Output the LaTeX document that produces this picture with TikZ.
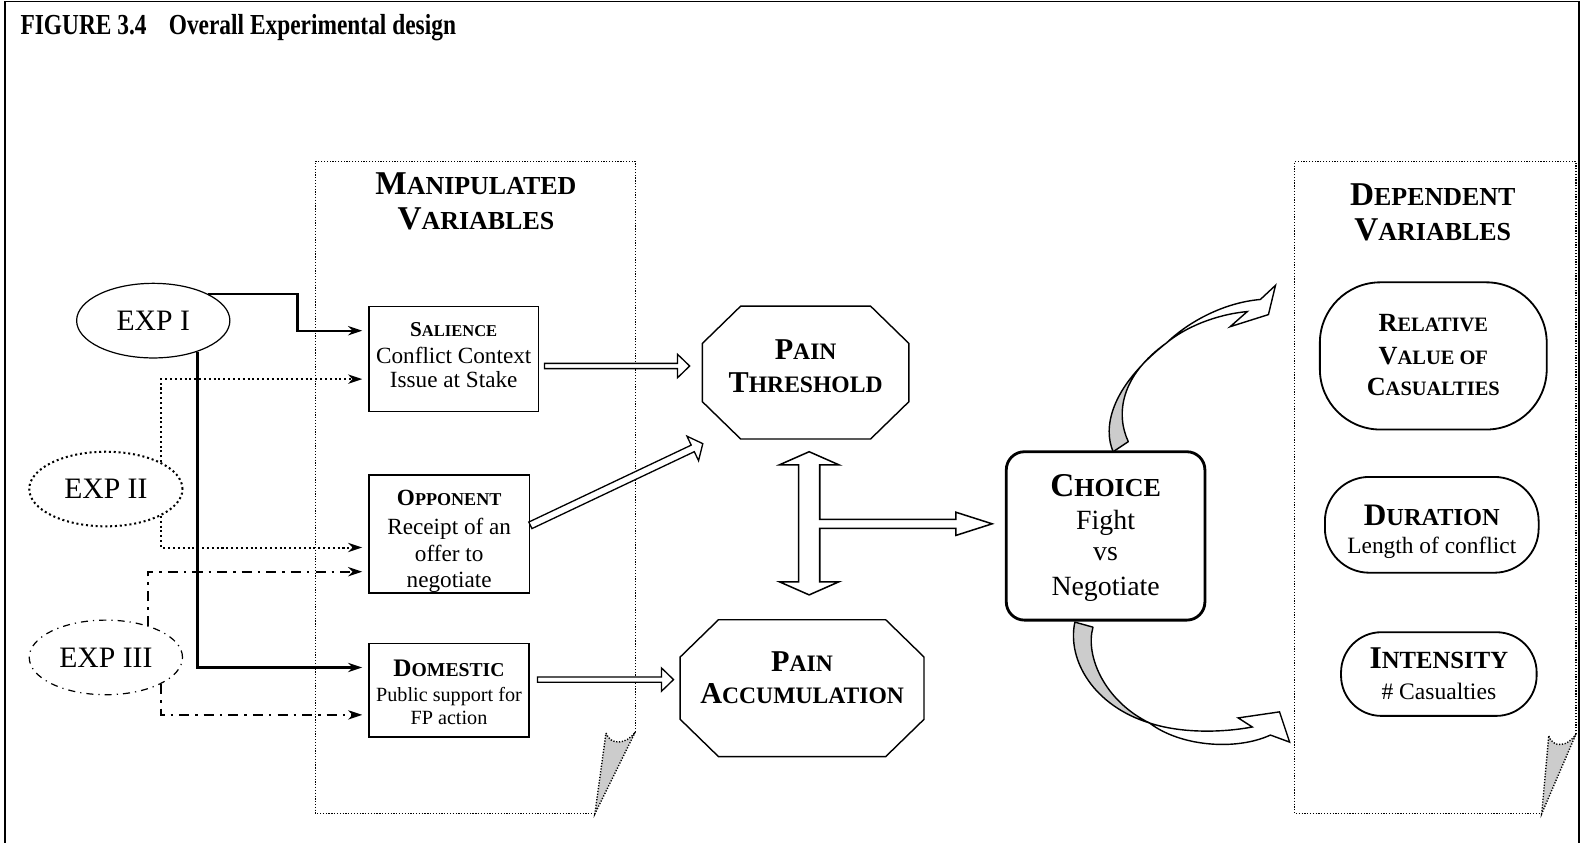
\documentclass[tikz,border=0pt]{standalone}
\usepackage{fontspec}
\setmainfont{Liberation Serif}
\usepackage{graphicx}
\usetikzlibrary{calc,arrows.meta,shapes.geometric}
\newcommand\SC[2]{#1\scalebox{0.78}{#2}}
\newcommand\fsz[1]{\fontsize{#1}{#1}\selectfont}
\newcommand\hollowarrow[5]{%
  \coordinate (ha-b) at ($(#2)!#5!(#1)$);
  \draw[harrow] ($(#1)!#3!90:(#2)$) -- ($(ha-b)!#3!-90:(#1)$) -- ($(ha-b)!#4!-90:(#1)$) -- (#2)
     -- ($(ha-b)!#4!90:(#1)$) -- ($(ha-b)!#3!90:(#1)$) -- ($(#1)!#3!-90:(#2)$) -- cycle;}
\newcommand\octa[5]{%
  \node[inner sep=0, minimum width=#4, minimum height=#5] (#1) at (#2,#3) {};
  \draw[octline] ([xshift=19pt]#1.north west) -- ([xshift=-19pt]#1.north east)
    -- ([yshift=-18.5pt]#1.north east) -- ([yshift=18.5pt]#1.south east)
    -- ([xshift=-19pt]#1.south east) -- ([xshift=19pt]#1.south west)
    -- ([yshift=18.5pt]#1.south west) -- ([yshift=-18.5pt]#1.north west) -- cycle;}
\tikzset{
 frame/.style={draw, line width=0.6pt},
 panel/.style={draw, line width=0.7pt, dash pattern=on 0.6pt off 0.8pt},
 fold/.style={panel, fill=black!20},
 mbox/.style={draw, line width=0.75pt, inner sep=0},
 lbl/.style={inner sep=0, anchor=base},
 expsh/.style={ellipse, inner sep=0, minimum width=76pt, minimum height=37pt, font=\fsz{14.7}},
 exponesty/.style={expsh, draw, line width=0.6pt},
 exptwosty/.style={expsh, draw, line width=1pt, dash pattern=on 1pt off 1.4pt},
 expthreesty/.style={expsh, draw, line width=0.6pt, dash pattern=on 3.5pt off 2.5pt on 0.6pt off 2.5pt},
 octline/.style={draw, line width=0.7pt, line join=miter},
 choicebox/.style={draw, line width=1.4pt, rounded corners=9pt, inner sep=0},
 dv/.style={draw, line width=0.9pt, inner sep=0},
 conn/.style={-{Stealth[length=7pt,width=4.6pt,inset=2.2pt]}, shorten >=3pt},
 solidc/.style={conn, line width=1.1pt},
 dotc/.style={conn, line width=1pt, dash pattern=on 1pt off 1.4pt},
 dashc/.style={conn, line width=1pt, dash pattern=on 5pt off 3pt on 1.2pt off 3pt},
 harrow/.style={draw, fill=white, line width=0.65pt, line join=miter},
 bigarrow/.style={draw, fill=white, line width=0.75pt, line join=miter},
 curvgray/.style={draw, fill=black!20, line width=0.7pt, line join=round},
 curvwhite/.style={draw, fill=white, line width=0.7pt, line join=miter},
}
\begin{document}
\begin{tikzpicture}[x=0.5pt,y=-0.5pt]
\useasboundingbox (0,0) rectangle (1568,836);
\draw[frame] (5,836) -- (5,1.5) -- (1566,1.5) -- (1566,836);
\node[anchor=base west, inner sep=0] (title) at (20,34)
  {\scalebox{1}[1.24]{\fsz{11.6}\bfseries FIGURE 3.4\hspace{11pt}Overall Experimental design}};

% panels
\draw[panel] (630,726) -- (630,160) -- (313,160) -- (313,807) -- (590,807);
\draw[fold] (601,727) .. controls (605,739) and (621,739) .. (630,726) -- (590,807) -- cycle;
\draw[panel] (1563,728) -- (1563,160) -- (1284,160) -- (1284,807) -- (1529,807);
\draw[fold] (1536,730) .. controls (1540,742) and (1555,741) .. (1563,728) -- (1529,807) -- cycle;

\node[lbl, font=\fsz{16.5}\bfseries] (mh1) at (472,193) {\SC{M}{ANIPULATED}};
\node[lbl, font=\fsz{16.5}\bfseries] (mh2) at (472,228) {\SC{V}{ARIABLES}};
\node[lbl, font=\fsz{16.5}\bfseries] (dh1) at (1421,203.5) {\SC{D}{EPENDENT}};
\node[lbl, font=\fsz{16.5}\bfseries] (dh2) at (1421,238.5) {\SC{V}{ARIABLES}};

% experiments
\node[exponesty] (exp1) at (152,318) {EXP I};
\node[exptwosty] (exp2) at (105,485) {EXP II};
\node[expthreesty] (exp3) at (105,652) {EXP III};

% manipulated boxes
\node[mbox, minimum width=84pt, minimum height=52pt] (sal) at (450,356) {};
\node[lbl, font=\fsz{10.5}\bfseries] (salt1) at (450,334) {\SC{S}{ALIENCE}};
\node[lbl, font=\fsz{11.5}] (salt2) at (450,360.6) {Conflict Context};
\node[lbl, font=\fsz{11.5}] (salt3) at (450,384.6) {Issue at Stake};

\node[mbox, minimum width=79.5pt, minimum height=58.5pt] (opp) at (445.5,529.5) {};
\node[lbl, font=\fsz{11.5}\bfseries] (oppt1) at (445.5,501.6) {\SC{O}{PPONENT}};
\node[lbl, font=\fsz{11.5}] (oppt2) at (445.5,529.6) {Receipt of an};
\node[lbl, font=\fsz{11.5}] (oppt3) at (445.5,556.6) {offer to};
\node[lbl, font=\fsz{11.5}] (oppt4) at (445.5,582.6) {negotiate};

\node[mbox, minimum width=79.3pt, minimum height=46.5pt] (dom) at (445.3,684.5) {};
\node[lbl, font=\fsz{12.5}\bfseries] (domt1) at (445.3,671) {\SC{D}{OMESTIC}};
\node[lbl, font=\fsz{10}] (domt2) at (445.3,695.6) {Public support for};
\node[lbl, font=\fsz{10}] (domt3) at (445.3,718.6) {FP action};

% pain octagons
\octa{thr}{799}{369.5}{102pt}{65.5pt}
\node[lbl, font=\fsz{15}\bfseries] (thrt1) at (799,357) {\SC{P}{AIN}};
\node[lbl, font=\fsz{15}\bfseries] (thrt2) at (799,389) {\SC{T}{HRESHOLD}};
\octa{acc}{795.5}{682.5}{120.5pt}{67.5pt}
\node[lbl, font=\fsz{15}\bfseries] (acct1) at (795.5,666) {\SC{P}{AIN}};
\node[lbl, font=\fsz{15}\bfseries] (acct2) at (795.5,698) {\SC{A}{CCUMULATION}};

% choice
\node[choicebox, minimum width=98.5pt, minimum height=83.5pt] (choice) at (1096.5,531.5) {};
\node[lbl, font=\fsz{16.5}\bfseries] (cht1) at (1096.5,492) {\SC{C}{HOICE}};
\node[lbl, font=\fsz{13.8}] (cht2) at (1096.5,525) {Fight};
\node[lbl, font=\fsz{13.8}] (cht3) at (1096.5,556) {vs};
\node[lbl, font=\fsz{13.8}] (cht4) at (1096.5,591) {Negotiate};

% dependent variables
\node[dv, rounded corners=30pt, minimum width=112.5pt, minimum height=73pt] (rel) at (1421.5,353) {};
\node[lbl, font=\fsz{13}\bfseries] (relt1) at (1421.5,328.6) {\SC{R}{ELATIVE}};
\node[lbl, font=\fsz{13}\bfseries] (relt2) at (1421.5,361.6) {\SC{V}{ALUE OF}};
\node[lbl, font=\fsz{13}\bfseries] (relt3) at (1421.5,392) {\SC{C}{ASUALTIES}};
\node[dv, rounded corners=22pt, minimum width=106pt, minimum height=47.5pt] (dur) at (1420,520.5) {};
\node[lbl, font=\fsz{15.5}\bfseries] (durt1) at (1420,520.8) {\SC{D}{URATION}};
\node[lbl, font=\fsz{11.6}] (durt2) at (1420,549.2) {Length of conflict};
\node[dv, rounded corners=20pt, minimum width=97pt, minimum height=41.5pt] (int) at (1427,668.5) {};
\node[lbl, font=\fsz{15.7}\bfseries] (intt1) at (1427,663.4) {\SC{I}{NTENSITY}};
\node[lbl, font=\fsz{11.7}] (intt2) at (1427,693.7) {\# Casualties};

% experiment connectors
\coordinate (xa) at (295,0);
\coordinate (ya) at (0,328);
\coordinate (yb) at (0,376);
\coordinate (yc) at (0,543);
\coordinate (yd) at (0,567);
\coordinate (ye) at (0,662);
\coordinate (yf) at (0,709);
\draw[solidc] (exp1.26) -| (xa |- ya) -- (sal.west |- ya);
\draw[solidc] (exp1.-35) |- (dom.west |- ye);
\draw[dotc] (exp2.26) |- (sal.west |- yb);
\draw[dotc] (exp2.-26) |- (opp.west |- yc);
\draw[dashc] (exp3.37) |- (opp.west |- yd);
\draw[dashc] (exp3.-26) |- (dom.west |- yf);

% hollow arrows
\coordinate (h1s) at (540,363);
\coordinate (h1e) at (684,363);
\coordinate (h2s) at (526,521);
\coordinate (h2e) at (697,440);
\coordinate (h3s) at (533,674);
\coordinate (h3e) at (668,674);
\hollowarrow{h1s}{h1e}{1.3pt}{5.8pt}{6pt}
\hollowarrow{h2s}{h2e}{1.8pt}{6.7pt}{5.5pt}
\hollowarrow{h3s}{h3e}{1.3pt}{5.8pt}{6pt}

% double arrow with branch to choice
\draw[bigarrow] (802.5,448) -- (832,461) -- (813,461) -- (813,515) -- (948,515) -- (948,508)
  -- (984,519.5) -- (948,531) -- (948,524) -- (813,524) -- (813,577) -- (832,577)
  -- (802.5,590) -- (773,577) -- (792,577) -- (792,461) -- (773,461) -- cycle;

% curved arrow up
\coordinate (c1) at (1157,340);
\draw[curvgray] (1104,448) .. controls (1094,425) and (1100,385) .. (c1)
  .. controls (1112,372) and (1106,410) .. (1119,438) -- cycle;
\draw[curvwhite] (c1) .. controls (1180,318) and (1215,300) .. (1250,297) -- (1265,283)
  -- (1258,312) -- (1220,324) -- (1237,309) .. controls (1205,312) and (1175,325) .. (c1) -- cycle;

% curved arrow down
\coordinate (c2) at (1140,717);
\draw[curvgray] (1066,617) .. controls (1058,655) and (1085,700) .. (c2)
  .. controls (1095,695) and (1076,650) .. (1084,622) -- cycle;
\draw[curvwhite] (c2) .. controls (1170,727) and (1210,727) .. (1242,721) -- (1228,712)
  -- (1269,706) -- (1279,736) -- (1260,729) .. controls (1225,745) and (1170,740) .. (c2) -- cycle;
\end{tikzpicture}
\end{document}
